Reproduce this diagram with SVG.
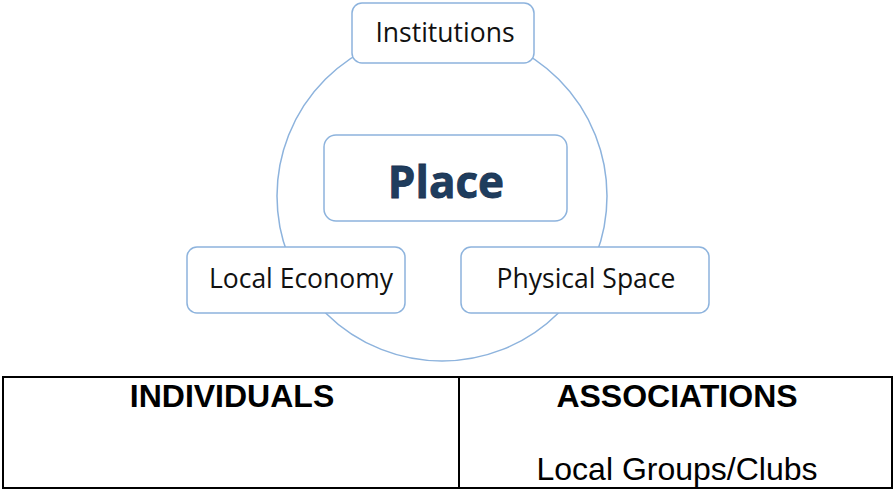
<svg xmlns="http://www.w3.org/2000/svg" width="895" height="490" viewBox="0 0 895 490">
<style>
.box{fill:#fff;stroke:#8db3dd;stroke-width:1.5}
.lbl{font-family:"Open Sans","Noto Sans",sans-serif;font-size:26.5px;fill:#111;text-anchor:middle}
.tbl{font-family:"Liberation Sans",Arial,sans-serif;fill:#000;text-anchor:middle}
</style>
<rect width="895" height="490" fill="#fff"/>
<g id="connectors">
<circle cx="442" cy="196" r="165" fill="none" stroke="#8db3dd" stroke-width="1.5"/>
</g>
<g id="institutions">
<rect class="box" x="352" y="3" width="182" height="60" rx="10"/>
<text class="lbl" x="445" y="42">Institutions</text>
</g>
<g id="place">
<rect class="box" x="324" y="135" width="243" height="86" rx="12"/>
<text x="446" y="198" font-family="'Open Sans','Noto Sans',sans-serif" font-weight="bold" font-size="44" fill="#1f3d5e" stroke="#1a3350" stroke-width="0.8" text-anchor="middle">Place</text>
</g>
<g id="local-economy">
<rect class="box" x="187" y="247" width="218" height="66" rx="10"/>
<text class="lbl" x="301" y="288">Local Economy</text>
</g>
<g id="physical-space">
<rect class="box" x="461" y="247" width="248" height="66" rx="10"/>
<text class="lbl" x="586" y="288">Physical Space</text>
</g>
<g id="table">
<rect x="3" y="377" width="889" height="111" fill="none" stroke="#000" stroke-width="2"/>
<line x1="459" y1="377" x2="459" y2="488" stroke="#000" stroke-width="2"/>
<text class="tbl" x="232" y="407" font-size="32" font-weight="bold">INDIVIDUALS</text>
<text class="tbl" x="677" y="407" font-size="32" font-weight="bold">ASSOCIATIONS</text>
<text class="tbl" x="677" y="480" font-size="32">Local Groups/Clubs</text>
</g>
</svg>
